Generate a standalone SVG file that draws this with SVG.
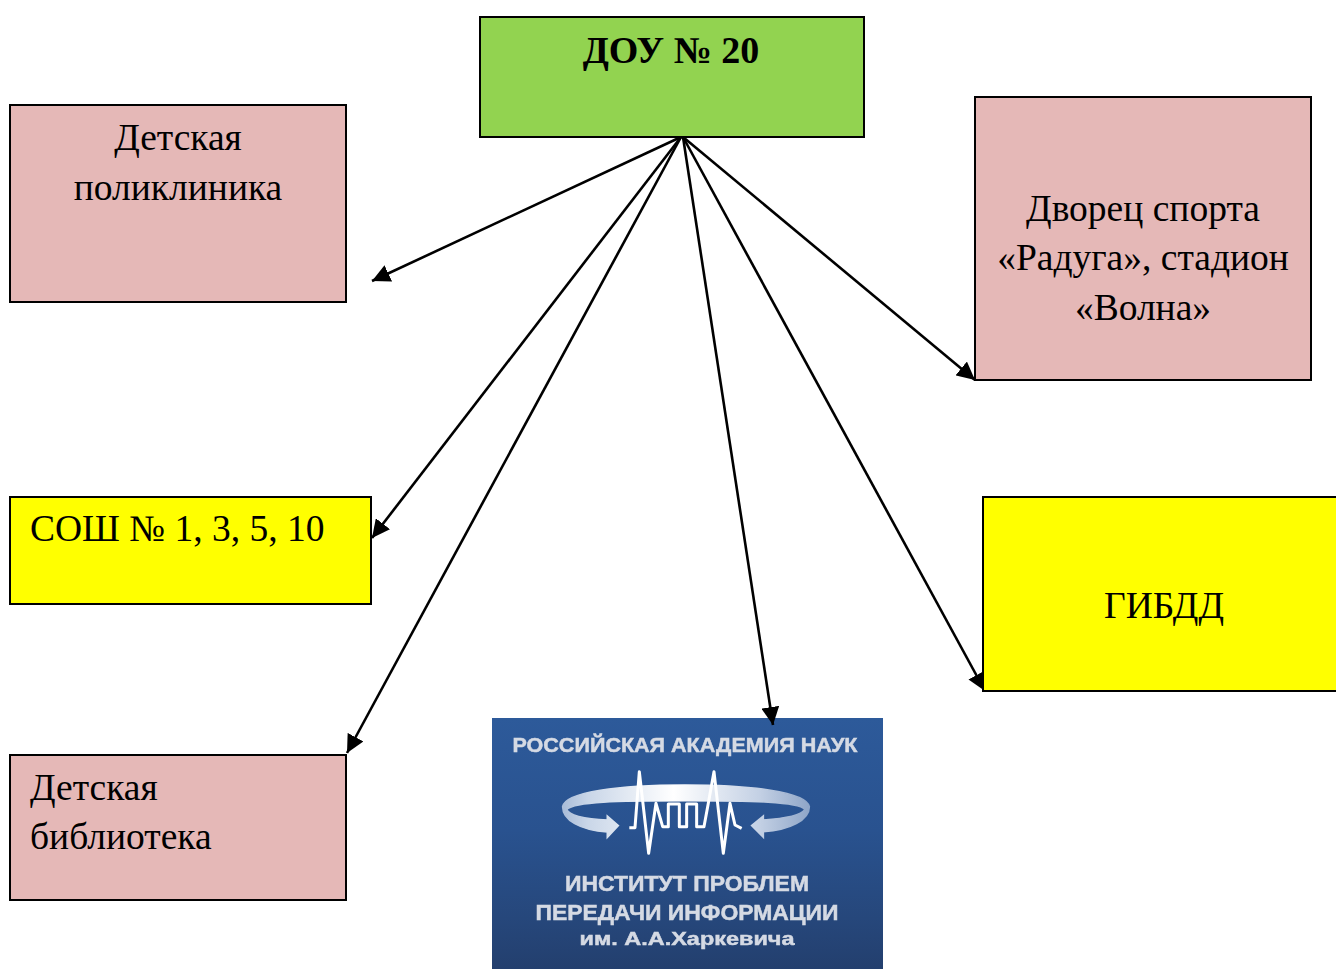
<svg xmlns="http://www.w3.org/2000/svg" width="1336" height="969" viewBox="0 0 1336 969">
<style>
.box{stroke:#000;stroke-width:2}
.pink{fill:#e5b8b7}
.yellow{fill:#ffff00}
.t{font-family:"Liberation Serif","Times New Roman",serif;font-size:37.5px;fill:#000}
.m{text-anchor:middle}
.c line{stroke:#000;stroke-width:2.6;marker-end:url(#a)}
.lt{font-family:"Liberation Sans",Arial,sans-serif;font-weight:bold;fill:#d5dae4;stroke:#d5dae4;stroke-width:.5;text-anchor:middle}
</style>
<defs>
<marker id="a" markerUnits="userSpaceOnUse" markerWidth="19" markerHeight="18" refX="18" refY="9" orient="auto"><path d="M0 0L18 9L0 18Z" fill="#000"/></marker>
<linearGradient id="bg" x1="0" y1="0" x2="0" y2="1"><stop offset="0" stop-color="#2d5a9a"/><stop offset=".45" stop-color="#29528f"/><stop offset=".8" stop-color="#26477b"/><stop offset="1" stop-color="#233f6e"/></linearGradient>
<linearGradient id="ring" x1="0" y1="0" x2="1" y2="0"><stop offset="0" stop-color="#a9bcd8"/><stop offset=".1" stop-color="#c9d6e8"/><stop offset=".45" stop-color="#ffffff"/><stop offset=".8" stop-color="#c3d0e4"/><stop offset="1" stop-color="#8fa6c8"/></linearGradient>
<filter id="soft" x="-5%" y="-5%" width="110%" height="110%"><feGaussianBlur stdDeviation="1"/></filter>
<filter id="softer" x="-5%" y="-20%" width="110%" height="140%"><feGaussianBlur stdDeviation="0.6"/></filter>
</defs>
<rect width="1336" height="969" fill="#fff"/>
<g id="node-institute">
<rect x="492" y="718" width="391" height="251" fill="url(#bg)"/>
<g filter="url(#softer)">
<text class="lt" x="685" y="752" font-size="21" textLength="345" lengthAdjust="spacingAndGlyphs">РОССИЙСКАЯ АКАДЕМИЯ НАУК</text>
<text class="lt" x="687" y="891" font-size="22" textLength="244" lengthAdjust="spacingAndGlyphs">ИНСТИТУТ ПРОБЛЕМ</text>
<text class="lt" x="687" y="920" font-size="22" textLength="303" lengthAdjust="spacingAndGlyphs">ПЕРЕДАЧИ ИНФОРМАЦИИ</text>
<text class="lt" x="687" y="945" font-size="19" textLength="215" lengthAdjust="spacingAndGlyphs">им. А.А.Харкевича</text>
</g>
<g transform="translate(550 760) scale(.3333)" filter="url(#soft)">
<path d="M205 197L172 168V180C100 178 55 165 50 148C75 125 200 122 405 122C610 122 745 125 765 148C755 165 710 175 640 180V168L605 197L640 232V215C720 210 778 180 778 140C770 95 600 75 405 75C210 75 45 95 38 140C38 180 90 210 172 216V232Z" fill="url(#ring)" stroke="url(#ring)" stroke-width="5"/>
<path d="M238 203H255L268 35L296 280L318 130L338 200H355V132H388V200H410V132H440V200H462L475 130L492 35L520 280L540 130L555 195L575 205" fill="none" stroke="#fff" stroke-width="9" stroke-linejoin="round"/>
</g>
</g>
<g id="connectors" class="c">
<line x1="681" y1="137" x2="372" y2="281"/>
<line x1="681" y1="137" x2="372" y2="538"/>
<line x1="681" y1="137" x2="347" y2="753"/>
<line x1="683" y1="137" x2="773" y2="725"/>
<line x1="683" y1="137" x2="985" y2="691"/>
<line x1="683" y1="137" x2="975" y2="380"/>
</g>
<g id="node-dou"><rect class="box" x="480" y="17" width="384" height="120" fill="#92d350"/><text class="t m" x="671" y="63" font-weight="bold" style="font-size:38px">ДОУ № 20</text></g>
<g id="node-clinic"><rect class="box pink" x="10" y="105" width="336" height="197"/><text class="t m" x="178" y="150">Детская</text><text class="t m" x="178" y="200">поликлиника</text></g>
<g id="node-sport"><rect class="box pink" x="975" y="97" width="336" height="283"/><text class="t m" x="1143" y="221">Дворец спорта</text><text class="t m" x="1143" y="270">«Радуга», стадион</text><text class="t m" x="1143" y="320">«Волна»</text></g>
<g id="node-school"><rect class="box yellow" x="10" y="497" width="361" height="107"/><text class="t" x="30" y="541">СОШ № 1, 3, 5, 10</text></g>
<g id="node-gibdd"><rect class="box yellow" x="983" y="497" width="355" height="194"/><text class="t m" x="1164" y="618">ГИБДД</text></g>
<g id="node-library"><rect class="box pink" x="10" y="755" width="336" height="145"/><text class="t" x="30" y="800">Детская</text><text class="t" x="30" y="849">библиотека</text></g>
</svg>
